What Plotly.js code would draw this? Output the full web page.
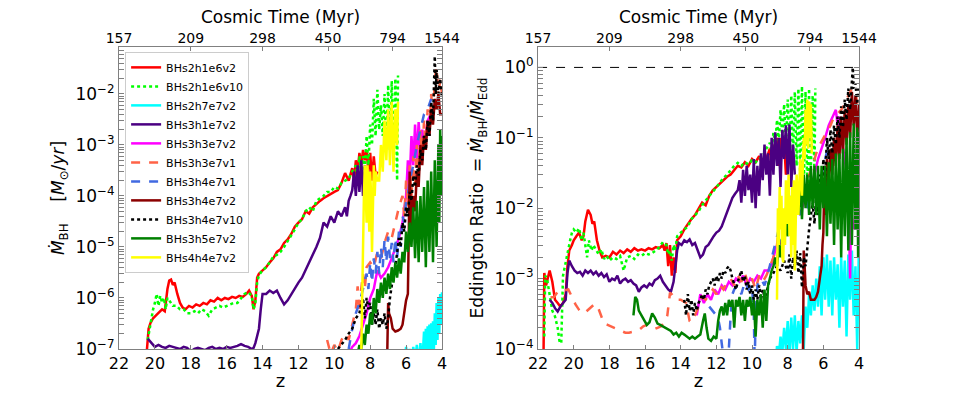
<!DOCTYPE html>
<html lang="en">
<head>
<meta charset="utf-8">
<script src="https://cdn.plot.ly/plotly-3.0.1.min.js"></script>
<title>BH accretion</title>
<style>body{margin:0;background:#fff}#chart{width:955px;height:393px}</style>
</head>
<body>
<div id="chart"></div>
<script>
// ---------- left panel: accretion rate (Msun/yr) ----------
var zL_red = [20.45,20.35,20.25,20.1,19.95,19.8,19.6,19.45,19.3,19.2,19.1,19.0,18.9,18.75,18.6,18.45,18.3,18.1,17.9,17.7,17.5,17.3,17.1,16.9,16.7,16.5,16.3,16.1,15.9,15.7,15.5,15.3,15.1,14.9,14.75,14.6,14.5,14.4,14.3,14.2,14.0,13.8,13.6,13.4,13.2,13.0,12.8,12.6,12.4,12.2,12.0,11.8,11.6,11.4,11.2,11.0,10.8,10.6,10.4,10.2,10.0,9.8,9.6,9.4,9.2,9.0,8.9,8.8,8.7,8.6,8.5,8.4,8.3,8.2,8.1,8.0,7.9,7.8,7.7,7.6];
var mdot_red = [9e-8,2.5e-7,3.2e-7,4e-7,4.5e-7,5e-7,6e-7,5.5e-7,1.5e-6,2.2e-6,2.3e-6,1.8e-6,2e-6,1.2e-6,8e-7,6.5e-7,6e-7,7e-7,6.5e-7,7.5e-7,7e-7,8e-7,7.5e-7,9e-7,8.5e-7,1e-6,9e-7,1e-6,9.5e-7,1.05e-6,1e-6,1.1e-6,1.05e-6,1.2e-6,1.4e-6,1.1e-6,6e-7,9e-7,2.5e-6,3e-6,3.5e-6,4e-6,5e-6,6e-6,8e-6,9e-6,1.2e-5,1.4e-5,1.8e-5,2.5e-5,3e-5,3.5e-5,5e-5,4.5e-5,6e-5,7e-5,8e-5,9e-5,1e-4,1.1e-4,1.2e-4,1.3e-4,1.8e-4,2.8e-4,2e-4,3.5e-4,2e-4,5e-4,3e-4,7e-4,4e-4,8e-4,5e-4,8e-4,3e-4,7e-4,2e-4,6e-4,2.5e-4,3e-4];

var zL_lime = [20.4,20.3,20.2,20.1,20.0,19.9,19.8,19.7,19.6,19.5,19.4,19.3,19.2,19.0,18.8,18.6,18.4,18.2,18.0,17.8,17.6,17.4,17.2,17.0,16.8,16.6,16.4,16.2,16.0,15.8,15.6,15.4,15.2,15.0,14.8,14.6,14.5,14.4,14.3,14.2,14.0,13.8,13.6,13.4,13.2,13.0,12.8,12.6,12.4,12.2,12.0,11.8,11.6,11.4,11.2,11.0,10.8,10.6,10.4,10.2,10.0,9.8,9.6,9.4,9.2,9.0,8.8,8.7,8.6,8.5,8.4,8.3,8.2,8.1,8.0,7.9,7.8,7.7,7.6,7.5,7.4,7.3,7.2,7.1,7.0,6.9,6.8,6.7,6.6,6.5,6.45];
var mdot_lime = [1.5e-7,2.5e-7,4e-7,6e-7,8e-7,1.2e-6,7e-7,1.1e-6,8e-7,1e-6,6e-7,1e-6,9e-7,7e-7,7e-7,6e-7,6e-7,5e-7,5e-7,5.5e-7,5e-7,6e-7,5.5e-7,4.5e-7,6e-7,6.5e-7,7e-7,6.5e-7,7e-7,7.5e-7,8e-7,8e-7,1e-6,1.2e-6,1.3e-6,1.1e-6,6e-7,8e-7,2e-6,2.8e-6,3.5e-6,4e-6,5e-6,6.5e-6,7e-6,8e-6,1e-5,1.3e-5,1.6e-5,2.2e-5,3e-5,3.5e-5,5e-5,6e-5,5e-5,8e-5,9e-5,1e-4,1.2e-4,1.2e-4,1.5e-4,1.4e-4,1.8e-4,2e-4,2.2e-4,3e-4,4e-4,2e-4,6e-4,3e-4,6e-4,3e-4,1.5e-3,4e-4,2.5e-3,1e-3,8e-3,1.5e-3,1.2e-2,2e-3,6e-3,1.5e-3,1e-2,1e-3,1.5e-2,8e-4,1.8e-2,5e-4,2e-2,2e-4,2.3e-2];

var zL_cyan = [6.1,6.0,5.9,5.8,5.7,5.6,5.5,5.4,5.3,5.2,5.1,5.0,4.95,4.9,4.85,4.8,4.75,4.7,4.65,4.6,4.55,4.5,4.45,4.4,4.35,4.3,4.25,4.2,4.15,4.1,4.05,4.0];
var mdot_cyan = [5e-8,1.1e-7,6e-8,1e-7,5e-8,1.1e-7,6e-8,1.2e-7,5e-8,1.3e-7,5e-8,2.2e-7,6e-8,2.5e-7,8e-8,2.8e-7,7e-8,3e-7,9e-8,3.2e-7,8e-8,3.5e-7,1e-7,5e-7,1.2e-7,8e-7,1.5e-7,1e-6,2e-7,1.2e-6,3e-7,1.3e-6];

var zL_indigo = [20.4,20.2,20.0,19.8,19.6,19.4,19.2,19.0,18.8,18.6,18.4,18.2,18.0,17.8,17.6,17.4,17.2,17.0,16.8,16.6,16.4,16.2,16.0,15.8,15.6,15.4,15.2,15.0,14.8,14.6,14.5,14.4,14.3,14.2,14.1,14.0,13.8,13.6,13.4,13.2,13.0,12.8,12.6,12.4,12.2,12.0,11.8,11.6,11.4,11.2,11.0,10.8,10.6,10.4,10.2,10.0,9.8,9.6,9.4,9.3,9.2,9.1,9.0,8.9,8.8,8.7,8.6,8.5,8.4,8.3,8.2,8.1,8.0];
var mdot_indigo = [1.6e-7,1.3e-7,1.1e-7,1.2e-7,1.1e-7,1.05e-7,1.15e-7,1.1e-7,1.05e-7,1e-7,1.1e-7,1.05e-7,9e-8,1e-7,1.05e-7,1e-7,9.5e-8,1.05e-7,1.1e-7,1e-7,1.05e-7,1e-7,1.1e-7,1.05e-7,1.1e-7,1.15e-7,1.25e-7,1.15e-7,1.1e-7,1e-7,1.05e-7,1.3e-7,1.8e-7,2.5e-7,6e-7,1.2e-6,1.2e-6,1.4e-6,1.25e-6,1.4e-6,1e-6,7.5e-7,9e-7,1.2e-6,1.5e-6,2e-6,2.5e-6,3.5e-6,5e-6,7e-6,1e-5,1.5e-5,3e-5,2.5e-5,4e-5,3e-5,5e-5,4e-5,6e-5,4e-5,8e-5,1e-4,1.3e-4,3e-4,1e-4,4e-4,1.2e-4,5e-4,1e-4,4e-4,1.5e-4,3e-4,1e-4];

var zL_magenta = [9.2,9.0,8.8,8.6,8.4,8.2,8.0,7.8,7.6,7.4,7.2,7.0,6.8,6.6,6.4,6.2,6.0,5.9,5.8,5.7,5.6,5.5,5.4,5.3,5.2,5.1,5.0,4.8,4.5,4.2];
var mdot_magenta = [8e-8,1.1e-7,1.3e-7,1.8e-7,3e-7,5e-7,1e-6,1.5e-6,3.5e-6,2.5e-6,3e-6,4e-6,6e-6,1e-5,1.5e-5,3e-5,1e-4,5e-4,2e-4,1.5e-3,4e-4,2.5e-3,5e-4,2.8e-3,8e-4,2e-3,1e-3,3e-3,5e-3,8e-3];

var zL_tomato = [10.4,10.2,10.0,9.8,9.6,9.4,9.2,9.0,8.8,8.7,8.6,8.5,8.4,8.3,8.2,8.0,7.8,7.6,7.4,7.2,7.0,6.8,6.6,6.4,6.2,6.1,6.0,5.9,5.8,5.7,5.6,5.5,5.4,5.3,5.2,5.1,5.0,4.9,4.8,4.7,4.6,4.5,4.4,4.3,4.2,4.1,4.0];
var mdot_tomato = [1.5e-7,8e-8,1.2e-7,9e-8,1.5e-7,2e-7,1.5e-7,3e-7,6e-7,1.7e-6,5e-7,1.5e-6,3e-6,1.5e-6,4e-6,5e-6,4e-6,8e-6,6e-6,1.2e-5,2e-5,1.5e-5,3e-5,6e-5,1e-4,4e-5,2e-4,6e-5,4e-4,1e-4,6e-4,1.5e-4,1e-3,2.5e-4,2e-3,5e-4,3e-3,8e-4,5e-3,1.5e-3,1e-2,3e-3,2e-2,3.4e-2,8e-3,2e-2,1e-2];

var zL_blue = [9.2,9.0,8.8,8.6,8.4,8.2,8.1,8.0,7.9,7.8,7.7,7.6,7.5,7.4,7.3,7.2,7.1,7.0,6.9,6.8,6.7,6.6,6.5,6.4,6.3,6.2,6.1,6.0,5.9,5.8,5.6,5.4,5.2,5.0,4.8,4.6];
var mdot_blue = [1e-7,2.5e-7,5e-7,8e-7,1.5e-6,3e-6,1.5e-6,5e-6,2e-6,6e-6,3e-6,8e-6,3e-6,1e-5,4e-6,1.4e-5,5e-6,1.6e-5,6e-6,1.2e-5,5e-6,1.5e-5,6e-6,2e-5,1e-5,4e-5,3e-5,8e-5,1e-4,2e-4,4e-4,1e-3,2e-3,4e-3,5e-3,8e-3];

var zL_darkred = [7.05,7.0,6.95,6.85,6.75,6.6,6.45,6.3,6.2,6.1,6.0,5.9,5.85,5.8,5.7,5.6,5.5,5.4,5.3,5.2,5.1,5.0,4.9,4.8,4.7,4.6,4.5,4.4,4.3,4.2,4.1,4.0];
var mdot_darkred = [8e-8,8e-7,5e-7,4e-7,2.5e-7,2.2e-7,2.3e-7,2.5e-7,3e-7,6e-7,9e-7,1.2e-6,1e-5,3e-4,2e-5,1e-4,5e-5,3e-4,1.5e-4,1e-3,4e-4,1.5e-3,8e-4,3e-3,1.5e-3,5e-3,2.5e-3,8e-3,5e-3,1e-2,4e-3,4e-3];

var zL_black = [9.8,9.6,9.4,9.2,9.0,8.8,8.6,8.5,8.4,8.3,8.2,8.1,8.0,7.9,7.8,7.7,7.6,7.5,7.4,7.3,7.2,7.1,7.0,6.9,6.8,6.7,6.6,6.5,6.4,6.3,6.2,6.1,6.0,5.9,5.8,5.7,5.6,5.5,5.4,5.3,5.2,5.1,5.0,4.9,4.8,4.7,4.6,4.5,4.45,4.4,4.35,4.3,4.2,4.1,4.0];
var mdot_black = [1e-7,1.2e-7,1.5e-7,2e-7,2.5e-7,4e-7,5e-7,8e-7,1e-6,4e-7,1e-6,6e-7,8e-7,3e-7,5e-7,3e-7,6e-7,2.5e-7,4e-7,3e-7,5e-7,2.5e-7,4e-7,1e-6,2e-6,3e-6,4e-6,8e-6,1.5e-5,1e-5,3e-5,2e-5,6e-5,4e-5,1.2e-4,8e-5,2.5e-4,1.5e-4,4e-4,2.5e-4,8e-4,5e-4,1.5e-3,8e-4,3e-3,1.5e-3,7e-3,3e-3,2e-2,5.5e-2,1e-2,3e-2,1e-2,2e-2,8e-3];

var zL_green = [8.7,8.6,8.5,8.4,8.3,8.2,8.1,8.0,7.9,7.8,7.7,7.6,7.5,7.4,7.3,7.2,7.1,7.0,6.9,6.8,6.7,6.6,6.5,6.4,6.3,6.2,6.1,6.0,5.9,5.8,5.7,5.6,5.5,5.4,5.3,5.2,5.1,5.0,4.9,4.8,4.7,4.6,4.5,4.4,4.3,4.2,4.15,4.1,4.05,4.0];
var mdot_green = [8e-8,1.2e-7,1e-7,2e-7,1.2e-7,3e-7,2e-7,5e-7,3e-7,1e-6,5e-7,1.5e-6,8e-7,2e-6,1e-6,2.5e-6,1.2e-6,3e-6,1.5e-6,4e-6,2e-6,5e-6,2.5e-6,6e-6,3e-6,8e-6,5e-6,2e-5,8e-6,3e-5,1e-5,6e-5,6e-6,8e-5,5e-6,1e-4,8e-6,1.5e-4,4e-6,2e-4,8e-6,3e-4,5e-6,5e-4,1e-5,1e-3,3e-5,2e-3,1e-4,1.5e-3];

var zL_yellow = [8.5,8.45,8.4,8.35,8.3,8.25,8.2,8.15,8.1,8.05,8.0,7.95,7.9,7.85,7.8,7.75,7.7,7.6,7.5,7.4,7.3,7.2,7.1,7.0,6.9,6.8,6.7,6.6,6.5,6.45];
var mdot_yellow = [8e-8,2e-6,1e-5,1e-4,4e-4,1e-4,3e-5,4e-4,8e-5,2e-5,3e-4,1e-4,8e-6,1.5e-4,4e-4,1e-4,3e-4,2e-4,2e-4,1e-3,3e-4,3e-3,5e-4,5e-3,4e-4,7e-3,3e-4,5e-3,1e-3,7e-3];

// ---------- right panel: Eddington ratio ----------
var zR_red = [21.7,21.65,21.55,21.45,21.35,21.2,21.05,20.9,20.75,20.6,20.45,20.35,20.25,20.1,20.0,19.85,19.7,19.55,19.45,19.35,19.2,19.05,18.95,18.85,18.7,18.55,18.4,18.2,18.0,17.8,17.6,17.4,17.2,17.0,16.8,16.6,16.4,16.2,16.0,15.8,15.6,15.4,15.2,15.0,14.9,14.8,14.7,14.6,14.5,14.4,14.3,14.2,14.0,13.8,13.6,13.4,13.2,13.0,12.8,12.6,12.4,12.2,12.0,11.8,11.6,11.4,11.2,11.0,10.8,10.6,10.4,10.2,10.0,9.8,9.6,9.4,9.2,9.0,8.9,8.8,8.7,8.6,8.5,8.4,8.3,8.2,8.1,8.0];
var edd_red = [5e-5,1.2e-3,8e-4,1e-3,1.3e-3,9e-4,5e-4,4.5e-4,4e-4,4.5e-4,6e-4,1.5e-3,2.5e-3,3e-3,3.5e-3,4e-3,4.5e-3,3.5e-3,4e-3,6.5e-3,9.5e-3,8e-3,6e-3,6.5e-3,3.5e-3,2.5e-3,2e-3,2.1e-3,2e-3,2.4e-3,2.2e-3,2.5e-3,2.3e-3,2.6e-3,2.4e-3,2.7e-3,2.5e-3,2.6e-3,2.5e-3,2.7e-3,2.6e-3,2.8e-3,2.7e-3,3e-3,2.5e-3,3.2e-3,1.5e-3,3e-3,1.1e-3,2e-3,1.2e-3,3.5e-3,4e-3,5e-3,6e-3,7e-3,8e-3,1e-2,1.2e-2,1.1e-2,1.5e-2,1.8e-2,2e-2,2.2e-2,2.5e-2,2.8e-2,3e-2,3.5e-2,4e-2,3.8e-2,4.5e-2,4e-2,5e-2,4.5e-2,5.5e-2,4e-2,5e-2,7e-2,4e-2,8e-2,5e-2,0.1,4e-2,0.1,6e-2,0.09,3e-2,0.06];

var zR_lime = [21.65,21.6,21.5,21.4,21.3,21.2,21.05,20.9,20.8,20.7,20.6,20.5,20.4,20.3,20.2,20.1,20.0,19.85,19.7,19.55,19.45,19.35,19.25,19.15,19.0,18.9,18.75,18.6,18.45,18.3,18.15,18.0,17.8,17.6,17.4,17.2,17.0,16.8,16.6,16.4,16.2,16.0,15.8,15.6,15.4,15.2,15.0,14.8,14.7,14.6,14.5,14.4,14.3,14.2,14.0,13.8,13.6,13.4,13.2,13.0,12.8,12.6,12.4,12.2,12.0,11.8,11.6,11.4,11.2,11.0,10.8,10.6,10.4,10.2,10.0,9.8,9.6,9.4,9.2,9.0,8.9,8.8,8.7,8.6,8.5,8.4,8.3,8.2,8.1,8.0,7.9,7.8,7.7,7.6,7.5,7.4,7.3,7.2,7.1,7.0,6.9,6.8,6.75,6.6,6.5,6.45];
var edd_lime = [1.5e-4,1.1e-3,1e-3,7e-4,5e-4,3.5e-4,2.9e-4,2e-4,1.3e-4,1.2e-4,1.1e-3,1.5e-3,2e-3,2.5e-3,3.5e-3,4.5e-3,5e-3,4.5e-3,5.2e-3,3.5e-3,4.5e-3,3e-3,2e-3,3.5e-3,2.5e-3,3e-3,2.5e-3,2.2e-3,2.6e-3,1.9e-3,2.1e-3,1.8e-3,2e-3,1.9e-3,2.1e-3,1.3e-3,2e-3,2.1e-3,1.9e-3,2.2e-3,2.1e-3,2.3e-3,2.2e-3,2.3e-3,2.5e-3,2.8e-3,3.3e-3,3e-3,2.2e-3,2.5e-3,1.8e-3,3e-3,2.5e-3,4e-3,4.5e-3,5e-3,5.5e-3,7e-3,8e-3,9e-3,1.1e-2,1.3e-2,1.5e-2,1.7e-2,2e-2,2.3e-2,2.7e-2,3e-2,3.5e-2,4e-2,4.4e-2,4e-2,4.5e-2,4.2e-2,4.8e-2,4.5e-2,5e-2,5.5e-2,7e-2,8.5e-2,6e-2,0.12,8e-2,0.18,9e-2,0.25,0.1,0.3,0.08,0.35,0.06,0.4,0.05,0.45,0.04,0.5,0.03,0.54,0.02,0.45,0.015,0.5,0.012,0.4,0.03,0.5];

var zR_cyan = [8.7,8.6,8.5,8.4,8.3,8.2,8.1,8.0,7.9,7.8,7.7,7.6,7.5,7.4,7.3,7.2,7.1,7.0,6.9,6.8,6.7,6.6,6.5,6.4,6.3,6.2,6.1,6.0,5.9,5.8,5.7,5.6,5.5,5.4,5.3,5.2,5.1,5.0,4.9,4.8,4.7,4.6,4.5,4.4,4.3,4.2,4.1,4.0];
var edd_cyan = [5e-5,1.1e-4,8e-5,1.5e-4,9e-5,2e-4,1e-4,2.5e-4,8e-5,2.8e-4,1e-4,3e-4,9e-5,2.5e-4,1.2e-4,3e-4,1e-4,4e-4,2e-4,6e-4,3e-4,8e-4,3.5e-4,1e-3,4e-4,1.5e-3,3e-4,2e-3,5e-4,2.2e-3,4e-4,1.8e-3,3e-4,2e-3,5e-4,1.6e-3,2e-4,2e-3,4e-4,1.8e-3,1.5e-4,2.2e-3,5e-4,2.5e-3,3e-4,1.5e-3,1e-4,4e-3];

var zR_indigo = [21.35,21.2,21.05,20.9,20.75,20.6,20.45,20.35,20.25,20.1,19.95,19.8,19.65,19.5,19.35,19.2,19.05,18.9,18.75,18.6,18.45,18.3,18.15,18.0,17.85,17.7,17.55,17.4,17.25,17.1,16.95,16.8,16.65,16.5,16.35,16.2,16.05,15.9,15.75,15.6,15.45,15.3,15.15,15.0,14.85,14.7,14.55,14.4,14.3,14.2,14.1,13.95,13.8,13.65,13.5,13.35,13.2,13.05,12.9,12.75,12.6,12.45,12.3,12.15,12.0,11.85,11.7,11.55,11.4,11.25,11.1,10.95,10.8,10.7,10.6,10.5,10.4,10.3,10.2,10.1,10.0,9.9,9.8,9.7,9.6,9.5,9.4,9.3,9.2,9.1,9.0,8.9,8.8,8.7,8.6,8.5,8.4,8.3,8.2,8.1,8.0,7.9,7.8,7.7,7.6];
var edd_indigo = [5e-4,4.5e-4,3.8e-4,3.4e-4,4e-4,4.5e-4,5e-4,1.2e-3,1.8e-3,1.5e-3,1.3e-3,1.2e-3,1.25e-3,1.1e-3,1.3e-3,1.2e-3,1.3e-3,1.15e-3,1.25e-3,1.1e-3,1.2e-3,1.05e-3,1.15e-3,9e-4,1e-3,9.5e-4,1.1e-3,8.5e-4,9.5e-4,1e-3,9e-4,9.5e-4,8.5e-4,8e-4,6.5e-4,7.5e-4,8e-4,7.5e-4,8.5e-4,8e-4,9.5e-4,1e-3,1.1e-3,9e-4,8e-4,7e-4,6.5e-4,9e-4,1.5e-3,2.5e-3,3.2e-3,3e-3,3.5e-3,3.3e-3,3.6e-3,3e-3,3.2e-3,2.5e-3,2e-3,2.2e-3,2.8e-3,3e-3,3.5e-3,4e-3,4.5e-3,4.8e-3,5.5e-3,7e-3,9e-3,1.1e-2,1.4e-2,1.6e-2,1.8e-2,2.5e-2,1.2e-2,3.5e-2,1.5e-2,4e-2,1.8e-2,3e-2,1.2e-2,5e-2,1e-2,4e-2,1.5e-2,6e-2,2.5e-2,8e-2,3e-2,6e-2,1.5e-2,0.1,3e-2,0.12,4e-2,0.1,2e-2,0.13,5e-2,0.15,3e-2,0.155,2e-2,0.08,3e-2];

var zR_magenta = [13.1,12.9,12.7,12.5,12.3,12.1,11.9,11.7,11.5,11.3,11.1,10.9,10.7,10.5,10.3,10.1,9.9,9.7,9.5,9.3,9.1,8.9,8.7,8.5,8.3,8.1,7.9,7.7,7.5,7.3,7.1,6.9,6.7,6.5,6.3,6.1,5.9,5.7,5.5,5.3,5.2,5.1,5.0,4.8,4.6,4.5,4.45,4.3];
var edd_magenta = [3e-4,6e-4,4.5e-4,6e-4,5e-4,7e-4,6e-4,8e-4,7e-4,9e-4,8e-4,1e-3,9e-4,1.1e-3,8e-4,1e-3,9e-4,1.1e-3,1e-3,1.3e-3,1.3e-3,1.6e-3,2.5e-3,3.5e-3,3e-3,5e-3,7e-3,6e-3,1e-2,8e-3,1.2e-2,1.5e-2,2e-2,3e-2,5e-2,7e-2,0.1,0.15,0.2,0.25,0.15,0.2,0.1,0.05,0.02,1e-3,0.01,5e-3];

var zR_tomato = [21.3,21.1,20.9,20.7,20.5,20.3,20.1,19.9,19.7,19.5,19.3,19.1,18.9,18.7,18.5,18.3,18.1,17.9,17.7,17.5,17.3,17.1,16.9,16.7,16.5,16.3,16.1,15.9,15.7,15.5,15.3,15.1,14.9,14.75,14.6,14.5,14.3,14.0,13.7,13.5,13.4,13.2,13.0,12.8,12.6,12.4,12.2,12.0,11.8,11.6,11.4,11.2,11.0,10.8,10.6,10.4,10.2,10.0,9.8,9.6,9.4,9.2,9.0,8.8,8.6,8.4,8.3,8.2,8.0,7.8,7.6,7.4,7.2,7.0,6.8,6.6,6.4,6.2,6.0,5.8,5.6,5.4,5.2,5.0,4.8,4.6,4.4,4.2,4.1,4.0];
var edd_tomato = [5.4e-4,5.5e-4,6.5e-4,7e-4,6.8e-4,7e-4,5.5e-4,4.3e-4,3.6e-4,3.2e-4,3.4e-4,3.8e-4,4.2e-4,4.3e-4,3.2e-4,2.3e-4,2.2e-4,2.1e-4,2e-4,1.9e-4,1.8e-4,1.7e-4,1.7e-4,1.75e-4,1.85e-4,1.9e-4,2.1e-4,2.2e-4,2e-4,1.9e-4,2e-4,2.1e-4,2.4e-4,3e-4,6.3e-4,6e-4,5e-4,5e-4,4.5e-4,2.5e-4,2.4e-4,3e-4,4e-4,5.5e-4,5e-4,6e-4,7e-4,6e-4,8e-4,7e-4,9e-4,1e-3,8e-4,1.1e-3,9e-4,1.2e-3,8e-4,1e-3,7e-4,1.1e-3,9e-4,1.1e-3,1.5e-3,2e-3,3e-3,1e-2,5e-3,8e-3,1e-2,8e-3,1.5e-2,1.2e-2,2e-2,2.5e-2,3e-2,4e-2,6e-2,8e-2,0.1,0.12,0.15,0.2,0.22,0.25,0.3,0.4,0.5,0.45,0.3,0.35];

var zR_blue = [12.4,12.2,12.0,11.9,11.8,11.7,11.6,11.5,11.4,11.3,11.2,11.1,11.0,10.8,10.6,10.4,10.2,10.0,9.9,9.85,9.8,9.7,9.5,9.3,9.1,8.9,8.7,8.5,8.3,8.1,7.9,7.7,7.5,7.3,7.1,6.9,6.75,6.5,6.3,6.1,5.9,5.7];
var edd_blue = [4e-4,3.5e-4,3e-4,2.7e-4,2e-4,1.2e-4,7e-5,5e-5,6e-5,1e-4,3e-4,6e-4,7e-4,8e-4,6e-4,9e-4,7e-4,8e-4,3e-4,6e-5,3e-4,8e-4,1e-3,8e-4,1.2e-3,2e-3,3e-3,5e-3,3e-3,1e-2,1.5e-2,5e-3,1.2e-2,8e-3,1.5e-2,1e-2,1.8e-2,2e-2,2.5e-2,3e-2,5e-2,8e-2];

var zR_darkred = [7.15,7.1,7.05,7.0,6.9,6.8,6.7,6.6,6.5,6.4,6.3,6.2,6.1,6.05,6.0,5.95,5.9,5.8,5.7,5.6,5.5,5.4,5.3,5.2,5.1,5.0,4.9,4.8,4.7,4.6,4.5,4.4,4.3,4.2,4.1,4.0];
var edd_darkred = [5e-5,2.5e-3,1.5e-3,8e-4,6e-4,6.5e-4,5e-4,5e-4,5e-4,5.5e-4,6.5e-4,1e-3,1.5e-3,3e-3,4.5e-3,2e-2,8e-3,5e-2,2e-2,7e-2,3e-2,0.1,4e-2,0.15,5e-2,0.2,6e-2,0.25,8e-2,0.3,0.1,0.45,0.15,0.4,0.1,0.3];

var zR_black = [13.8,13.7,13.6,13.5,13.4,13.3,13.2,13.1,13.0,12.9,12.8,12.7,12.6,12.5,12.4,12.3,12.2,12.1,12.0,11.9,11.8,11.7,11.6,11.5,11.4,11.3,11.2,11.1,11.0,10.9,10.8,10.7,10.6,10.5,10.4,10.3,10.2,10.1,10.0,9.9,9.8,9.7,9.6,9.5,9.4,9.3,9.2,9.1,9.0,8.8,8.6,8.4,8.2,8.0,7.9,7.8,7.7,7.6,7.5,7.4,7.3,7.2,7.1,7.0,6.9,6.8,6.7,6.6,6.5,6.4,6.3,6.2,6.1,6.0,5.9,5.8,5.7,5.6,5.5,5.4,5.3,5.2,5.1,5.0,4.9,4.8,4.7,4.6,4.5,4.4,4.35,4.3,4.2,4.1,4.05];
var edd_black = [5e-4,3e-4,6e-4,3.5e-4,5e-4,3e-4,4.5e-4,3.5e-4,4.5e-4,5e-4,6e-4,5e-4,7e-4,6e-4,8e-4,9e-4,1e-3,8e-4,1.1e-3,9e-4,1.2e-3,1e-3,1.3e-3,1.2e-3,1.4e-3,1.5e-3,1.3e-3,1e-3,8e-4,7e-4,9e-4,1.1e-3,1.3e-3,9e-4,1.1e-3,7e-4,9e-4,6e-4,8e-4,5e-4,7e-4,5e-4,8e-4,5e-4,7e-4,5.5e-4,6e-4,8e-4,1e-3,1.2e-3,1.5e-3,1.3e-3,1.8e-3,1.2e-3,2.2e-3,1e-3,2e-3,1.5e-3,2.5e-3,1.2e-3,2.3e-3,7.5e-4,2e-3,1.5e-3,3e-3,5e-3,8e-3,1.2e-2,6e-3,1.5e-2,8e-3,3e-2,1.5e-2,5e-2,2.5e-2,0.1,5e-2,0.13,6e-2,0.15,8e-2,0.2,0.1,0.28,0.14,0.35,0.18,0.5,0.25,0.9,1.0,0.5,0.6,0.3,0.5];

var zR_green = [16.65,16.55,16.45,16.35,16.2,16.05,15.9,15.75,15.6,15.45,15.3,15.15,15.0,14.85,14.7,14.55,14.4,14.25,14.1,13.95,13.8,13.65,13.5,13.35,13.2,13.05,12.9,12.75,12.65,12.55,12.45,12.3,12.15,12.0,11.9,11.8,11.7,11.6,11.5,11.4,11.3,11.2,11.1,11.0,10.9,10.8,10.7,10.6,10.5,10.4,10.3,10.2,10.1,10.0,9.9,9.8,9.7,9.6,9.5,9.4,9.3,9.2,9.1,9.0,8.9,8.8,8.7,8.6,8.5,8.4,8.3,8.2,8.1,8.0,7.9,7.8,7.7,7.6,7.5,7.4,7.3,7.2,7.1,7.0,6.9,6.8,6.7,6.6,6.5,6.4,6.3,6.2,6.1,6.0,5.9,5.8,5.7,5.6,5.5,5.4,5.3,5.2,5.1,5.0,4.9,4.8,4.7,4.6,4.5,4.4,4.3,4.2,4.1,4.05,4.0];
var edd_green = [3e-4,5.5e-4,5e-4,3.5e-4,3e-4,2.5e-4,2.2e-4,2.4e-4,3.2e-4,2.8e-4,2.3e-4,2.2e-4,2.1e-4,2e-4,1.9e-4,1.8e-4,1.6e-4,1.7e-4,1.5e-4,1.7e-4,1.6e-4,1.5e-4,1.4e-4,1.5e-4,1.4e-4,1.5e-4,1.6e-4,2.5e-4,3.2e-4,2e-4,1.4e-4,1.3e-4,1.5e-4,1.4e-4,2.5e-4,3.5e-4,4e-4,3e-4,4.5e-4,3e-4,5e-4,4e-4,5e-4,2e-4,5e-4,4e-4,5.5e-4,3e-4,5e-4,2.5e-4,5e-4,4e-4,5.5e-4,3e-4,5e-4,1.5e-4,5e-4,3e-4,6e-4,2e-4,7e-4,2.5e-4,8e-4,1e-3,1.3e-3,1.5e-3,2e-3,1.5e-3,3e-3,2e-3,4e-3,3e-3,6e-3,4e-3,1e-2,5e-3,1.5e-2,6e-3,2e-2,8e-3,2.5e-2,7e-3,3e-2,1e-2,3e-2,8e-3,4e-2,1e-2,4e-2,8e-3,4e-2,5e-3,4e-2,1e-2,4e-2,4e-3,4.5e-2,6e-3,5e-2,3e-3,6e-2,5e-3,6e-2,2e-3,7e-2,4e-3,0.1,2.5e-3,0.12,3e-3,0.16,5e-3,0.14,2e-3,0.12];

var zR_yellow = [8.6,8.55,8.5,8.45,8.4,8.35,8.3,8.25,8.2,8.15,8.1,8.05,8.0,7.95,7.9,7.85,7.8,7.75,7.7,7.65,7.6,7.5,7.4,7.3,7.2,7.1,7.05,7.0,6.95,6.9,6.85,6.8,6.75,6.7,6.65];
var edd_yellow = [5e-4,1e-2,3e-3,2e-2,5e-3,1.5e-2,2e-3,1.7e-3,1e-2,3e-3,2.5e-2,6e-3,7e-3,3e-2,4e-3,1.5e-2,2e-3,2e-2,3e-3,2.5e-2,1.3e-3,3e-2,8e-3,5e-2,1.5e-2,0.1,0.05,0.25,0.08,0.35,0.07,0.33,0.1,0.3,0.06];

// ---------- names, styles, axis labels ----------
var runNames = ['BHs2h1e6v2','BHs2h1e6v10','BHs2h7e7v2','BHs3h1e7v2','BHs3h3e7v2','BHs3h3e7v1','BHs3h4e7v1','BHs3h4e7v2','BHs3h4e7v10','BHs3h5e7v2','BHs4h4e7v2'];
var runColors = ['#ff0000','#00ff00','#00ffff','#4b0082','#ff00ff','#ff6347','#4169e1','#8b0000','#000000','#008000','#ffff00'];
var runDash = ['solid','dot','solid','solid','solid','dash','dash','solid','dot','solid','solid'];

var zTicks = [22,20,18,16,14,12,10,8,6,4];
var timeTickZ = [22,18,14,10.35,6.75,4];
var timeTickText = ['157','209','298','450','794','1544'];

var leftX = [zL_red,zL_lime,zL_cyan,zL_indigo,zL_magenta,zL_tomato,zL_blue,zL_darkred,zL_black,zL_green,zL_yellow];
var leftY = [mdot_red,mdot_lime,mdot_cyan,mdot_indigo,mdot_magenta,mdot_tomato,mdot_blue,mdot_darkred,mdot_black,mdot_green,mdot_yellow];
var rightX = [zR_red,zR_lime,zR_cyan,zR_indigo,zR_magenta,zR_tomato,zR_blue,zR_darkred,zR_black,zR_green,zR_yellow];
var rightY = [edd_red,edd_lime,edd_cyan,edd_indigo,edd_magenta,edd_tomato,edd_blue,edd_darkred,edd_black,edd_green,edd_yellow];

var data = [];
// Eddington limit line
data.push({x: [22, 4], y: [1, 1], xaxis: 'x2', yaxis: 'y2', type: 'scatter', mode: 'lines',
    line: {color: '#000', width: 1, dash: 'dash'}, showlegend: false, hoverinfo: 'skip'});
// empty traces so the cosmic-time axes get drawn
data.push({x: [22, 4], y: [1e-5, 1e-5], xaxis: 'x3', yaxis: 'y', mode: 'none', showlegend: false, hoverinfo: 'skip'});
data.push({x: [22, 4], y: [1e-2, 1e-2], xaxis: 'x4', yaxis: 'y2', mode: 'none', showlegend: false, hoverinfo: 'skip'});

for (var i = 0; i < runNames.length; i++) {
    data.push({x: leftX[i], y: leftY[i], name: runNames[i], type: 'scatter', mode: 'lines',
        xaxis: 'x', yaxis: 'y', legendgroup: runNames[i],
        line: {color: runColors[i], width: 2.5, dash: runDash[i]}});
}
for (var i = 0; i < runNames.length; i++) {
    data.push({x: rightX[i], y: rightY[i], name: runNames[i], type: 'scatter', mode: 'lines',
        xaxis: 'x2', yaxis: 'y2', legendgroup: runNames[i], showlegend: false,
        line: {color: runColors[i], width: 2.5, dash: runDash[i]}});
}

// log tick helpers
function decadeTicks(lo, hi) {
    var v = [], t = [];
    for (var e = lo; e <= hi; e++) {
        v.push(Math.pow(10, e));
        t.push('10<sup>' + (e < 0 ? '\u2212' + (-e) : e) + '</sup>');
    }
    return {v: v, t: t};
}
function minorTicks(lo, hi) {
    var v = [];
    for (var e = lo; e <= hi; e++)
        for (var m = 2; m < 10; m++) v.push(m * Math.pow(10, e));
    return v;
}
var tkL = decadeTicks(-7, -2), tkR = decadeTicks(-4, 0);

var font = 'DejaVu Sans, sans-serif';
var axCol = '#808080';
function zAxis(dom, anchor) {
    return {domain: dom, anchor: anchor, range: [22, 4], tickvals: zTicks, ticks: 'inside', ticklen: 4,
        tickcolor: axCol, showline: true, linecolor: axCol, mirror: true, showgrid: false, zeroline: false,
        tickfont: {size: 16, color: '#000'}, title: {text: 'z', font: {size: 18, color: '#000'}, standoff: 2}};
}
function timeAxis(over, anchor) {
    return {overlaying: over, anchor: anchor, side: 'top', range: [22, 4], tickmode: 'array',
        tickvals: timeTickZ, ticktext: timeTickText, ticks: 'inside', ticklen: 4, tickcolor: axCol,
        showgrid: false, zeroline: false, showline: false, tickfont: {size: 14, color: '#000'},
        title: {text: 'Cosmic Time (Myr)', font: {size: 17, color: '#000'}, standoff: 2}};
}
function logAxis(dom, anchor, rng, tk, lo, hi, ttl) {
    return {domain: dom, anchor: anchor, type: 'log', range: rng, tickmode: 'array', tickvals: tk.v, ticktext: tk.t,
        ticks: 'inside', ticklen: 5, tickcolor: axCol, showline: true, linecolor: axCol, mirror: 'allticks',
        showgrid: false, zeroline: false, tickfont: {size: 17, color: '#000'},
        minor: {tickmode: 'array', tickvals: minorTicks(lo, hi), ticks: 'inside', ticklen: 2.5, tickcolor: axCol, showgrid: false},
        title: {text: ttl, font: {size: 17, color: '#000'}, standoff: 6}};
}

var yDom = [0.112, 0.8804];
var layout = {
    width: 955, height: 393,
    margin: {l: 0, r: 0, t: 0, b: 0},
    paper_bgcolor: '#fff', plot_bgcolor: '#fff',
    font: {family: font, color: '#000'},
    showlegend: true,
    legend: {x: 0.131, y: 0.868, xanchor: 'left', yanchor: 'top', bgcolor: 'rgba(255,255,255,0.85)',
        bordercolor: '#cccccc', borderwidth: 1, font: {size: 11, family: font}, itemwidth: 30, tracegroupgap: 0},
    xaxis: zAxis([0.1246, 0.4628], 'y'),
    yaxis: logAxis(yDom, 'x', [-7, -1.08], tkL, -7, -2,
        '<i>\u1E40</i><sub>BH</sub>    [<i>M</i><sub>\u2299</sub>/<i>yr</i>]'),
    xaxis2: zAxis([0.5634, 0.8995], 'y2'),
    yaxis2: logAxis(yDom, 'x2', [-4, 0.29], tkR, -4, 0,
        'Eddington Ratio  = <i>\u1E40</i><sub>BH</sub>/<i>\u1E40</i><sub>Edd</sub>'),
    xaxis3: timeAxis('x', 'y'),
    xaxis4: timeAxis('x2', 'y2')
};

Plotly.newPlot('chart', data, layout, {displayModeBar: false, staticPlot: true});
</script>
</body>
</html>
